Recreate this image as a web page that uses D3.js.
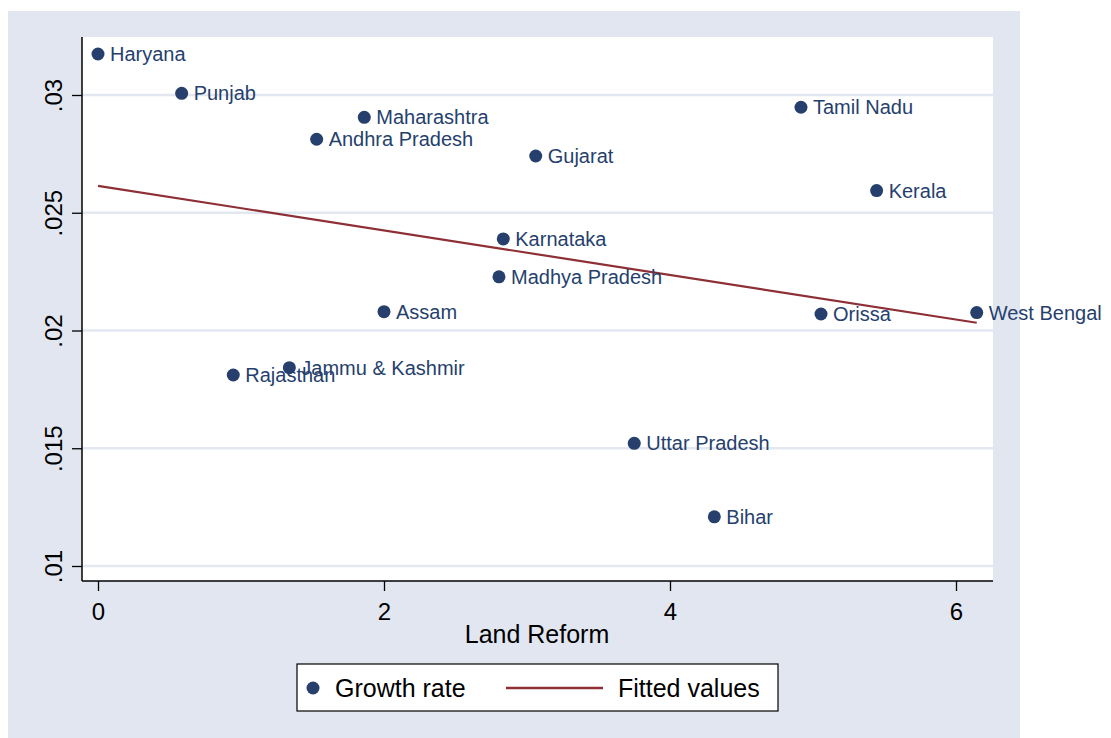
<!DOCTYPE html>
<html>
<head>
<meta charset="utf-8">
<script src="https://cdn.jsdelivr.net/npm/d3@7"></script>
<style>
  body { margin: 0; background: #fff; }
  svg { display: block; font-family: "Liberation Sans", Arial, sans-serif; }
</style>
</head>
<body>
<svg id="chart" width="1111" height="738"></svg>
<script>
// states, land reform score and growth rate
let states = ["Haryana", "Punjab", "Maharashtra", "Andhra Pradesh", "Gujarat", "Tamil Nadu", "Kerala",
  "Karnataka", "Madhya Pradesh", "Assam", "Orissa", "West Bengal", "Jammu & Kashmir", "Rajasthan",
  "Uttar Pradesh", "Bihar"]
let landReform = [0, 0.585, 1.862, 1.529, 3.061, 4.916, 5.445,
  2.834, 2.804, 2.0, 5.056, 6.145, 1.338, 0.946,
  3.75, 4.31]
let growthRate = [0.03174, 0.03007, 0.02905, 0.02812, 0.02741, 0.02948, 0.02594,
  0.02389, 0.02228, 0.0208, 0.0207, 0.02076, 0.01842, 0.01811,
  0.01521, 0.01209]

// fitted values line endpoints
let fitX = [0, 6.145]
let fitY = [0.02614, 0.02033]

let xTicks = [0, 2, 4, 6]
let yTicks = [0.01, 0.015, 0.02, 0.025, 0.03]
let yTickLabels = [".01", ".015", ".02", ".025", ".03"]

let navy = "#263f6d",
  maroon = "#8e2f35",
  bg = "#e1e6f0",
  grid = "#e3e7f0"

let svg = d3.select("#chart")
let plot = { left: 82, right: 993, top: 37, bottom: 581 }

let x = d3.scaleLinear().domain([0, 6]).range([98, 956])
let y = d3.scaleLinear().domain([0.01, 0.03]).range([566, 95])

// graph region
svg.append("rect")
  .attr("x", 8).attr("y", 11)
  .attr("width", 1012).attr("height", 727)
  .attr("fill", bg)

// plot region
svg.append("rect")
  .attr("x", plot.left).attr("y", plot.top)
  .attr("width", plot.right - plot.left).attr("height", plot.bottom - plot.top)
  .attr("fill", "white")

// grid lines
svg.append("g").selectAll("line")
  .data(yTicks).enter()
  .append("line")
  .attr("x1", plot.left).attr("x2", plot.right)
  .attr("y1", d => y(d)).attr("y2", d => y(d))
  .attr("stroke", grid).attr("stroke-width", 2.5)

// y axis
let yAxis = d3.axisLeft(y)
  .tickValues(yTicks)
  .tickSize(10)
  .tickSizeOuter(0)
  .tickFormat((d, i) => yTickLabels[i])
let gy = svg.append("g")
  .attr("transform", `translate(${plot.left},0)`)
  .call(yAxis)
gy.select(".domain").remove()
gy.selectAll(".tick line").attr("stroke", "black").attr("stroke-width", 1.3)
gy.selectAll(".tick text")
  .attr("x", null).attr("dy", null)
  .attr("text-anchor", "middle")
  .attr("transform", "translate(-20,0) rotate(-90)")
  .attr("fill", "black")
  .style("font-size", "24px")
  .style("font-family", "Liberation Sans, Arial, sans-serif")

// x axis
let xAxis = d3.axisBottom(x)
  .tickValues(xTicks)
  .tickSize(10)
  .tickSizeOuter(0)
  .tickFormat(d3.format("d"))
let gx = svg.append("g")
  .attr("transform", `translate(0,${plot.bottom})`)
  .call(xAxis)
gx.select(".domain").remove()
gx.selectAll(".tick line").attr("stroke", "black").attr("stroke-width", 1.3)
gx.selectAll(".tick text")
  .attr("y", 39).attr("dy", null)
  .attr("fill", "black")
  .style("font-size", "24px")
  .style("font-family", "Liberation Sans, Arial, sans-serif")

// axis lines
svg.append("line")
  .attr("x1", plot.left).attr("x2", plot.left)
  .attr("y1", plot.top).attr("y2", plot.bottom)
  .attr("stroke", "black").attr("stroke-width", 1.5)
svg.append("line")
  .attr("x1", plot.left).attr("x2", plot.right)
  .attr("y1", plot.bottom).attr("y2", plot.bottom)
  .attr("stroke", "black").attr("stroke-width", 1.5)

// axis title
svg.append("text")
  .attr("x", (x(0) + x(6)) / 2 + 10).attr("y", 643)
  .attr("text-anchor", "middle")
  .style("font-size", "25px")
  .text("Land Reform")

// fitted line
let fit = d3.range(fitX.length).map(i => [x(fitX[i]), y(fitY[i])])
svg.append("path")
  .attr("d", d3.line()(fit))
  .attr("fill", "none")
  .attr("stroke", maroon)
  .attr("stroke-width", 2.2)

// points and labels
let pts = svg.append("g").selectAll("g")
  .data(states).enter()
  .append("g")
  .attr("transform", (d, i) => `translate(${x(landReform[i])},${y(growthRate[i])})`)
pts.append("circle")
  .attr("r", 6.5)
  .attr("fill", navy)
pts.append("text")
  .attr("x", 12).attr("y", 7)
  .attr("fill", navy)
  .style("font-size", "20px")
  .text(d => d)

// legend
let leg = svg.append("g")
leg.append("rect")
  .attr("x", 297).attr("y", 664)
  .attr("width", 481).attr("height", 47)
  .attr("fill", "white").attr("stroke", "black").attr("stroke-width", 1.2)
leg.append("circle")
  .attr("cx", 313).attr("cy", 688).attr("r", 6.5)
  .attr("fill", navy)
leg.append("text")
  .attr("x", 335).attr("y", 697)
  .style("font-size", "25px")
  .text("Growth rate")
leg.append("line")
  .attr("x1", 506).attr("x2", 603)
  .attr("y1", 688).attr("y2", 688)
  .attr("stroke", maroon).attr("stroke-width", 2.5)
leg.append("text")
  .attr("x", 618).attr("y", 697)
  .style("font-size", "25px")
  .text("Fitted values")
</script>
</body>
</html>
